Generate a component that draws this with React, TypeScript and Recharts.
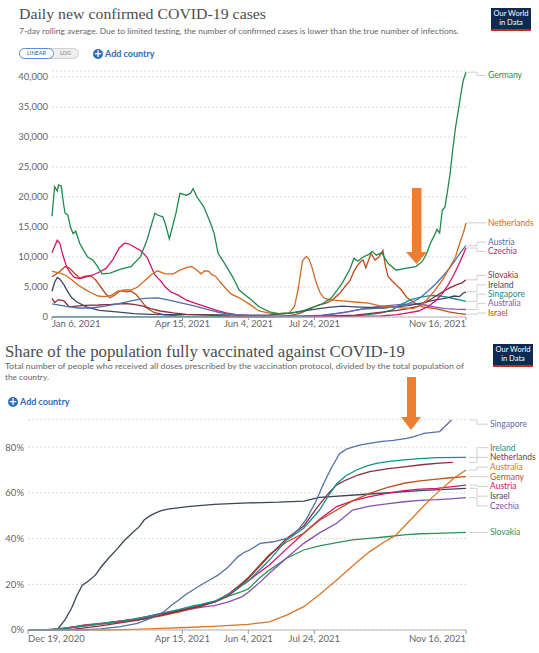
import React from 'react'
import { LineChart, Line, XAxis, YAxis, CartesianGrid } from 'recharts'

type Pt = [number, number]

// Daily new confirmed cases, 7-day rolling average. [days since Jan 6 2021, cases]
const germanyCases: Pt[] = [
  [0, 16800], [2, 21700], [4, 21000], [5, 22000], [7, 21800], [9, 18500], [10, 17300], [12, 17000],
  [14, 15000], [16, 13900], [18, 14300], [21, 12300], [24, 11100], [27, 10000], [31, 9500], [34, 8600],
  [38, 7200], [44, 7300], [51, 7900], [58, 8300], [60, 8400], [62, 8900], [67, 10000], [72, 12800],
  [78, 17300], [80, 17000], [84, 16700], [86, 15500], [89, 13000], [92, 15600], [94, 17300], [97, 20600],
  [102, 20300], [105, 20600], [107, 21400], [110, 20000], [115, 18400], [120, 15800], [123, 13900],
  [126, 10600], [131, 8900], [137, 6700], [142, 4500], [147, 3600], [150, 3100], [157, 1700], [165, 850],
  [172, 550], [180, 670], [188, 850], [195, 1400], [205, 2200], [212, 3200], [220, 5600], [226, 8000],
  [229, 9800], [232, 9300], [236, 10000], [240, 10400], [243, 10900], [246, 10300], [250, 10700],
  [255, 8900], [261, 7800], [268, 8100], [276, 8400], [281, 9300], [284, 10500], [287, 12300],
  [290, 13600], [292, 14600], [294, 14000], [296, 17800], [298, 18300], [300, 21000], [302, 24000],
  [304, 28000], [306, 31500], [308, 34200], [310, 37000], [312, 39500], [314, 40800],
]
const netherlandsCases: Pt[] = [
  [0, 7600], [5, 7400], [10, 7000], [15, 6200], [20, 5300], [25, 4600], [30, 4000], [35, 3500],
  [40, 3400], [45, 3600], [50, 4300], [55, 4500], [60, 4500], [65, 5000], [70, 6000], [75, 7000],
  [80, 7700], [86, 7200], [92, 7200], [97, 7800], [103, 8300], [106, 8400], [110, 7800], [113, 7200],
  [116, 7700], [119, 7600], [121, 7100], [124, 6800], [128, 5700], [132, 4700], [136, 3800], [142, 3200],
  [150, 2100], [157, 1000], [165, 650], [172, 550], [180, 700], [184, 1800], [187, 5000], [190, 9400],
  [193, 10100], [195, 9600], [197, 8400], [200, 6000], [203, 4200], [206, 3200], [210, 2900],
  [220, 2700], [230, 2500], [240, 2300], [248, 1900], [260, 1600], [274, 1400], [280, 2000],
  [284, 2800], [290, 4300], [296, 6100], [301, 8000], [306, 10000], [310, 12800], [312, 14000], [314, 15700],
]
const austriaCases: Pt[] = [
  [0, 2200], [10, 1800], [20, 1500], [30, 1500], [40, 1800], [50, 2200], [60, 2700], [70, 3100],
  [80, 3200], [87, 2900], [97, 2400], [107, 1900], [117, 1300], [127, 750], [137, 400], [150, 200],
  [170, 100], [190, 120], [205, 250], [220, 700], [235, 1300], [250, 1500], [260, 1700], [270, 2200],
  [278, 3000], [285, 4300], [291, 5500], [296, 6700], [301, 8000], [306, 9500], [310, 10800], [314, 11900],
]
const czechiaCases: Pt[] = [
  [0, 10700], [2, 11800], [4, 12800], [6, 12300], [8, 10500], [11, 8400], [14, 7300], [17, 6600],
  [21, 6400], [26, 6700], [31, 7000], [36, 7500], [41, 8100], [46, 9500], [51, 11500], [55, 12300],
  [58, 12200], [62, 11700], [67, 11100], [72, 10000], [75, 8500], [78, 7000], [82, 6100], [86, 5000],
  [90, 4200], [96, 3600], [102, 2800], [110, 2200], [117, 1700], [125, 1100], [132, 700], [142, 300],
  [155, 150], [180, 100], [220, 150], [250, 200], [262, 400], [270, 700], [278, 1000], [285, 1700],
  [291, 2700], [296, 3900], [300, 5200], [304, 6700], [308, 8500], [311, 10000], [314, 11500],
]
const slovakiaCases: Pt[] = [
  [0, 3100], [2, 2400], [5, 2900], [9, 2700], [13, 1700], [18, 1800], [25, 1950], [35, 2000],
  [45, 2100], [55, 2250], [62, 2100], [69, 1800], [75, 1400], [82, 1000], [92, 700], [102, 450],
  [117, 300], [135, 150], [160, 80], [200, 80], [230, 300], [250, 800], [262, 1100], [270, 1400],
  [278, 1800], [286, 2800], [292, 3600], [297, 4300], [302, 4900], [307, 5400], [311, 5700], [314, 6200],
]
const irelandCases: Pt[] = [
  [0, 4300], [2, 5800], [4, 6600], [6, 6300], [9, 5400], [12, 4200], [15, 3200], [19, 2500],
  [26, 1700], [36, 1100], [49, 850], [62, 550], [75, 450], [90, 400], [110, 400], [130, 350],
  [150, 300], [165, 350], [180, 600], [190, 1000], [200, 1300], [210, 1600], [220, 1800], [230, 1700],
  [240, 1600], [250, 1500], [260, 1700], [270, 1900], [280, 2300], [290, 2800], [300, 3200],
  [305, 3500], [309, 3400], [312, 4000], [314, 4200],
]
const singaporeCases: Pt[] = [
  [0, 30], [100, 30], [200, 50], [225, 100], [240, 400], [250, 700], [258, 1200], [265, 2100],
  [272, 2900], [280, 3300], [288, 3600], [294, 3500], [300, 3300], [306, 3000], [310, 2800], [314, 2600],
]
const australiaCases: Pt[] = [
  [0, 20], [150, 20], [190, 150], [205, 300], [215, 550], [225, 900], [235, 1300], [245, 1700],
  [255, 1900], [265, 2100], [275, 2200], [283, 2000], [290, 1700], [298, 1400], [306, 1300], [314, 1250],
]
const israelCases: Pt[] = [
  [0, 6700], [5, 7400], [10, 8400], [13, 8200], [17, 7300], [21, 6500], [25, 6800], [29, 6900],
  [33, 6200], [37, 5000], [41, 3800], [44, 3200], [48, 3700], [52, 4400], [56, 4200], [60, 4300],
  [64, 3700], [68, 2600], [72, 1500], [77, 800], [85, 350], [100, 120], [120, 60], [150, 30],
  [170, 60], [180, 200], [188, 600], [195, 1300], [202, 2000], [208, 2300], [213, 2900], [218, 3900],
  [222, 5000], [226, 6100], [229, 7600], [231, 8400], [234, 9200], [236, 9500], [238, 8200],
  [240, 9400], [242, 10600], [245, 9500], [248, 10000], [251, 11100], [253, 8400], [255, 6700],
  [258, 6000], [260, 5600], [265, 4500], [269, 3300], [274, 2500], [281, 1700], [291, 1400],
  [301, 850], [308, 600], [314, 450],
]

const caseTickDays = [0, 99, 149, 199, 314]
const caseTickLabels = ['Jan 6, 2021', 'Apr 15, 2021', 'Jun 4, 2021', 'Jul 24, 2021', 'Nov 16, 2021']
const caseYTicks = [0, 5000, 10000, 15000, 20000, 25000, 30000, 35000, 40000]

// Share of population fully vaccinated. [days since Dec 19 2020, %]
const singaporeVax: Pt[] = [
  [0, 0], [40, 0], [55, 0.5], [70, 1.5], [83, 2.9], [96, 5.8], [103, 8], [109, 10.9], [114, 13],
  [119, 15.3], [125, 17.5], [131, 19.7], [138, 22], [144, 24], [152, 27.7], [159, 32], [164, 34],
  [168, 35], [176, 37.9], [186, 38.6], [199, 40.5], [205, 44], [211, 48.5], [218, 56], [224, 64],
  [230, 71], [236, 77], [241, 79], [246, 80], [252, 81], [267, 82.4], [277, 83], [287, 83.8],
  [292, 84.5], [296, 85.2], [300, 86], [312, 86.8], [316, 89], [321, 91.9],
]
const irelandVax: Pt[] = [
  [0, 0], [10, 0], [20, 0.3], [30, 0.8], [43, 1.8], [55, 2.8], [66, 3.6], [80, 4.7], [90, 5.8],
  [101, 7.3], [114, 8.9], [125, 10.5], [131, 11.2], [142, 12.7], [152, 15.5], [162, 19.5], [167, 21.5],
  [175, 26], [183, 30.6], [196, 39.4], [209, 44.5], [221, 52.5], [228, 59], [234, 64], [241, 67.5],
  [249, 70], [257, 71.8], [264, 72.9], [274, 73.8], [285, 74.4], [297, 75], [310, 75.4], [332, 75.5],
]
const netherlandsVax: Pt[] = [
  [0, 0], [18, 0], [25, 0.1], [35, 0.4], [43, 0.9], [55, 1.8], [66, 2.8], [80, 4], [90, 5],
  [101, 6.5], [114, 8.2], [125, 9.7], [131, 10.5], [142, 12.4], [152, 15.5], [162, 20], [167, 22.5],
  [175, 27.5], [183, 32.5], [196, 40], [209, 45.5], [221, 55], [228, 60], [234, 63.5], [241, 65.6],
  [250, 67.8], [259, 69.3], [272, 70.5], [285, 71.4], [300, 72.4], [312, 73], [322, 73.3],
]
const australiaVax: Pt[] = [
  [0, 0], [60, 0], [80, 0.3], [101, 0.7], [120, 1.1], [140, 1.6], [167, 2.5], [183, 3.6], [196, 6.5],
  [209, 10.2], [221, 15.5], [234, 21.9], [247, 28.5], [259, 34.3], [270, 38.5], [279, 41.6],
  [288, 47], [297, 52.5], [306, 57.8], [315, 62.5], [323, 66.5], [332, 70],
]
const germanyVax: Pt[] = [
  [0, 0], [8, 0], [15, 0.2], [25, 0.6], [35, 1.4], [43, 2], [55, 2.7], [66, 3.3], [80, 4.3], [90, 5],
  [101, 6.2], [114, 7.8], [125, 9.4], [131, 10.3], [142, 12.5], [152, 15.8], [162, 20.5], [167, 23],
  [175, 28], [183, 33], [196, 38.5], [209, 42.3], [221, 48], [234, 52.5], [246, 56.5], [259, 59.8],
  [272, 62.3], [285, 64.2], [297, 65.2], [310, 66], [320, 66.6], [332, 67.1],
]
const austriaVax: Pt[] = [
  [0, 0], [10, 0], [18, 0.2], [28, 0.7], [43, 2.2], [55, 2.9], [66, 3.6], [80, 4.5], [90, 5.4],
  [101, 6.9], [114, 8.5], [125, 10], [131, 10.8], [142, 12.5], [152, 15], [162, 19.5], [167, 21.5],
  [175, 25], [183, 28.4], [196, 35.5], [209, 42.3], [221, 48.5], [234, 54], [246, 56.5], [259, 58.3],
  [272, 59.8], [285, 61], [297, 61.6], [310, 62], [320, 62.6], [332, 63.4],
]
const israelVax: Pt[] = [
  [0, 0], [22, 0], [25, 2.2], [28, 4.4], [33, 9.5], [37, 15], [41, 19.5], [46, 21.5], [51, 24],
  [56, 28], [61, 31.4], [68, 35.7], [72, 38.5], [76, 40.8], [80, 43], [84, 45], [88, 48.1],
  [92, 49.8], [96, 51], [101, 52.2], [106, 52.9], [121, 54], [141, 55], [167, 55.6], [190, 55.9],
  [209, 56.4], [221, 58], [259, 59.5], [297, 61], [332, 62],
]
const czechiaVax: Pt[] = [
  [0, 0], [10, 0], [18, 0.2], [28, 0.6], [43, 1.8], [55, 2.6], [66, 3.5], [80, 4.7], [90, 5.8],
  [101, 7.3], [114, 8.6], [125, 9.4], [131, 9.9], [142, 10.8], [152, 12.3], [162, 14.5], [167, 16.5],
  [175, 20.5], [183, 24.8], [196, 31.5], [209, 37.9], [221, 42.5], [234, 46.7], [246, 52.5],
  [259, 54.2], [272, 55.2], [285, 56.1], [297, 56.7], [310, 57], [320, 57.4], [332, 57.9],
]
const slovakiaVax: Pt[] = [
  [0, 0], [8, 0], [15, 0.2], [25, 0.7], [43, 1.8], [55, 2.7], [66, 3.5], [80, 4.6], [90, 5.7],
  [101, 7], [114, 8.3], [125, 9.8], [131, 10.8], [142, 12.3], [152, 14.8], [162, 16.8], [167, 18],
  [175, 22.5], [183, 26.2], [196, 31.4], [209, 35], [221, 36.8], [234, 38.2], [246, 39.4], [259, 40.1],
  [272, 40.8], [285, 41.6], [297, 42.1], [310, 42.3], [320, 42.5], [332, 42.7],
]

const vaxTickDays = [0, 117, 167, 217, 332]
const vaxTickLabels = ['Dec 19, 2020', 'Apr 15, 2021', 'Jun 4, 2021', 'Jul 24, 2021', 'Nov 16, 2021']
const vaxYTicks = [0, 20, 40, 60, 80]

type Series = { name: string; color: string; points: Pt[] }

const caseSeries: Series[] = [
  { name: 'Germany', color: '#1f8a4c', points: germanyCases },
  { name: 'Netherlands', color: '#d26a22', points: netherlandsCases },
  { name: 'Austria', color: '#4f6fa8', points: austriaCases },
  { name: 'Czechia', color: '#d0166c', points: czechiaCases },
  { name: 'Slovakia', color: '#8b2f3f', points: slovakiaCases },
  { name: 'Ireland', color: '#3a4868', points: irelandCases },
  { name: 'Singapore', color: '#13928a', points: singaporeCases },
  { name: 'Australia', color: '#8a55b0', points: australiaCases },
  { name: 'Israel', color: '#c04a1c', points: israelCases },
]

const vaxSeries: Series[] = [
  { name: 'Singapore', color: '#5570a3', points: singaporeVax },
  { name: 'Ireland', color: '#13928a', points: irelandVax },
  { name: 'Netherlands', color: '#8b2f3f', points: netherlandsVax },
  { name: 'Australia', color: '#d7772a', points: australiaVax },
  { name: 'Germany', color: '#b8541f', points: germanyVax },
  { name: 'Austria', color: '#d0166c', points: austriaVax },
  { name: 'Israel', color: '#3b4556', points: israelVax },
  { name: 'Czechia', color: '#8a4fb0', points: czechiaVax },
  { name: 'Slovakia', color: '#2a9457', points: slovakiaVax },
]

const W = 539
const AXIS_H = 20
const FONT = 'Lato, "DejaVu Sans", sans-serif'

type Panel = {
  top: number
  height: number
  plotTop: number
  plotLeft: number
  plotRight: number
  xMax: number
  yMax: number
  xTicks: number[]
  xLabels: string[]
  yTicks: number[]
  yFormat: (v: number) => string
  tickSize: number
  tickMargin: number
  gap: number
  lineStart: number
  bendX: number
  labelX: number
}

const casesPanel: Panel = {
  top: 0, height: 337, plotTop: 71, plotLeft: 52, plotRight: 466, xMax: 314, yMax: 41000,
  xTicks: caseTickDays, xLabels: caseTickLabels, yTicks: caseYTicks,
  yFormat: (v) => v.toLocaleString('en-US'), tickSize: 3, tickMargin: 0,
  gap: 9.4, lineStart: 467, bendX: 477, labelX: 488,
}

const vaxPanel: Panel = {
  top: 400, height: 250, plotTop: 19.7, plotLeft: 28, plotRight: 466, xMax: 332, yMax: 92,
  xTicks: vaxTickDays, xLabels: vaxTickLabels, yTicks: vaxYTicks,
  yFormat: (v) => `${v}%`, tickSize: 4, tickMargin: 1,
  gap: 9.7, lineStart: 469, bendX: 477, labelX: 490,
}

// push end labels apart so they don't overlap, keeping each cluster centred on its lines
function spreadLabels(ends: number[], gap: number, minY: number, maxY: number): number[] {
  const place = (ids: number[]) => {
    const mean = ids.reduce((s, i) => s + ends[i], 0) / ids.length
    const top = mean - ((ids.length - 1) * gap) / 2
    return Math.max(minY, Math.min(top, maxY - (ids.length - 1) * gap))
  }
  const order = ends.map((_, i) => i).sort((a, b) => ends[a] - ends[b])
  let groups = order.map((i) => ({ ids: [i], top: place([i]) }))
  let merged = true
  while (merged) {
    merged = false
    for (let k = 0; k < groups.length - 1; k++) {
      const a = groups[k]
      const b = groups[k + 1]
      if (a.top + a.ids.length * gap > b.top) {
        const ids = [...a.ids, ...b.ids]
        groups.splice(k, 2, { ids, top: place(ids) })
        merged = true
        break
      }
    }
  }
  const out: number[] = []
  groups.forEach((g) => g.ids.forEach((id, j) => (out[id] = g.top + j * gap)))
  return out
}

function TrendPanel({ panel, series }: { panel: Panel; series: Series[] }) {
  const plotBottom = panel.height - AXIS_H
  const toPx = (v: number) => plotBottom - (v / panel.yMax) * (plotBottom - panel.plotTop)
  const ends = series.map((s) => toPx(s.points[s.points.length - 1][1]))
  const slots = spreadLabels(ends, panel.gap, panel.plotTop + 4.5, plotBottom - 4)

  const dateTick = (p: any) => {
    const i = panel.xTicks.indexOf(p.payload.value)
    const anchor = i === 0 ? 'start' : i === panel.xTicks.length - 1 ? 'end' : 'middle'
    return (
      <text key={`t${i}`} x={p.x} y={p.y} dy="0.71em" textAnchor={anchor} fill="#666" fontSize={9.5} fontFamily={FONT}>
        {panel.xLabels[i]}
      </text>
    )
  }

  const endLabel = (s: Series, i: number) => (p: any) => {
    if (p.index !== s.points.length - 1) return <g key={`n${p.index}`} />
    const ly = p.cy + slots[i] - ends[i]
    const { lineStart, bendX, labelX } = panel
    return (
      <g key="end">
        <polyline
          points={`${lineStart},${p.cy} ${bendX},${p.cy} ${bendX},${ly} ${labelX - 2},${ly}`}
          fill="none"
          stroke="#c4c4c4"
          strokeWidth={0.8}
        />
        <text x={labelX} y={ly} dy="0.34em" fill={s.color} fontSize={8.5} fontFamily={FONT}>
          {s.name}
        </text>
      </g>
    )
  }

  return (
    <div style={{ position: 'absolute', left: 0, top: panel.top }}>
      <LineChart
        width={W}
        height={panel.height}
        margin={{ top: panel.plotTop, right: W - panel.plotRight, bottom: 0, left: 0 }}
      >
        <CartesianGrid vertical={false} stroke="#d9d9d9" strokeDasharray="2 2" />
        <XAxis
          type="number"
          dataKey="d"
          domain={[0, panel.xMax]}
          ticks={panel.xTicks}
          interval={0}
          height={AXIS_H}
          tick={dateTick}
          tickSize={panel.tickSize}
          tickMargin={panel.tickMargin}
          axisLine={{ stroke: '#b5b5b5' }}
          tickLine={{ stroke: '#999' }}
        />
        <YAxis
          type="number"
          domain={[0, panel.yMax]}
          ticks={panel.yTicks}
          interval={0}
          width={panel.plotLeft}
          axisLine={false}
          tickLine={false}
          tickSize={0}
          tickMargin={4}
          tickFormatter={panel.yFormat}
          tick={{ fill: '#666', fontSize: 9.5, fontFamily: FONT }}
        />
        {series
          .map((s, i) => (
            <Line
              key={s.name}
              data={s.points.map(([d, v]) => ({ d, v }))}
              dataKey="v"
              type="linear"
              stroke={s.color}
              strokeWidth={1.3}
              dot={endLabel(s, i)}
              activeDot={false}
              isAnimationActive={false}
            />
          ))
          .reverse()}
      </LineChart>
    </div>
  )
}

function Logo({ x, y }: { x: number; y: number }) {
  return (
    <div
      style={{
        position: 'absolute', left: x, top: y, width: 40, height: 23, background: '#0d2a52',
        borderBottom: '2px solid #c8262b', boxSizing: 'border-box', color: '#fff',
        fontFamily: FONT, fontSize: 7.5, lineHeight: '8.5px', textAlign: 'center', paddingTop: 2,
      }}
    >
      Our World
      <br />
      in Data
    </div>
  )
}

function AddCountry({ x, y }: { x: number; y: number }) {
  return (
    <div style={{ position: 'absolute', left: x, top: y, display: 'flex', alignItems: 'center', gap: 2 }}>
      <div
        style={{
          width: 10, height: 10, borderRadius: 5, background: '#2b6cbd', color: '#fff',
          fontFamily: 'DejaVu Sans', fontWeight: 700, fontSize: 10, lineHeight: '10px', textAlign: 'center',
        }}
      >
        +
      </div>
      <span style={{ fontFamily: FONT, fontWeight: 700, fontSize: 9, color: '#2b6cbd' }}>Add country</span>
    </div>
  )
}

export default function App() {
  return (
    <div style={{ position: 'relative', width: W, height: 653, background: '#fff', overflow: 'hidden' }}>
      <style>{'body{margin:0}'}</style>

      <TrendPanel panel={casesPanel} series={caseSeries} />
      <TrendPanel panel={vaxPanel} series={vaxSeries} />

      {/* scale toggle */}
      <div
        style={{
          position: 'absolute', left: 19, top: 48, width: 60, height: 11, borderRadius: 6,
          background: '#efefef', border: '1px solid #d0d0d0', boxSizing: 'border-box',
          fontFamily: FONT, fontSize: 5.5, display: 'flex', alignItems: 'stretch',
        }}
      >
        <div
          style={{
            width: 35, borderRadius: 6, background: '#fff', border: '1px solid #5a8fd0',
            boxSizing: 'border-box', color: '#2b5e9e', textAlign: 'center', lineHeight: '9px', margin: -1,
          }}
        >
          LINEAR
        </div>
        <div style={{ flex: 1, color: '#777', textAlign: 'center', lineHeight: '9px' }}>LOG</div>
      </div>
      <AddCountry x={93} y={48} />
      <AddCountry x={8} y={396} />

      <Logo x={491} y={8} />
      <Logo x={493} y={344} />

      <svg width={W} height={653} style={{ position: 'absolute', left: 0, top: 0, pointerEvents: 'none' }}>
        <text x={19} y={19} fontFamily='"Liberation Serif", serif' fontSize={15.5} fill="#4d4d4d"
          textLength={247} lengthAdjust="spacingAndGlyphs">
          Daily new confirmed COVID-19 cases
        </text>
        <text x={19} y={33.5} fontFamily={FONT} fontSize={8.3} fill="#666" textLength={440} lengthAdjust="spacingAndGlyphs">
          7-day rolling average. Due to limited testing, the number of confirmed cases is lower than the true number of infections.
        </text>
        <text x={5} y={356.5} fontFamily='"Liberation Serif", serif' fontSize={16} fill="#4d4d4d"
          textLength={400} lengthAdjust="spacingAndGlyphs">
          Share of the population fully vaccinated against COVID-19
        </text>
        <text x={5} y={369} fontFamily={FONT} fontSize={8.3} fill="#666" textLength={459} lengthAdjust="spacingAndGlyphs">
          Total number of people who received all doses prescribed by the vaccination protocol, divided by the total population of
        </text>
        <text x={5} y={379.5} fontFamily={FONT} fontSize={8.3} fill="#666">
          the country.
        </text>

        {/* annotation arrows */}
        <rect x={412} y={188} width={9.5} height={65} fill="#ed7d31" />
        <polygon points="406,252 427,252 416.5,264" fill="#ed7d31" />
        <rect x={407} y={377} width={9} height={41} fill="#ed7d31" />
        <polygon points="401,417 421,417 411,430" fill="#ed7d31" />
      </svg>
    </div>
  )
}
